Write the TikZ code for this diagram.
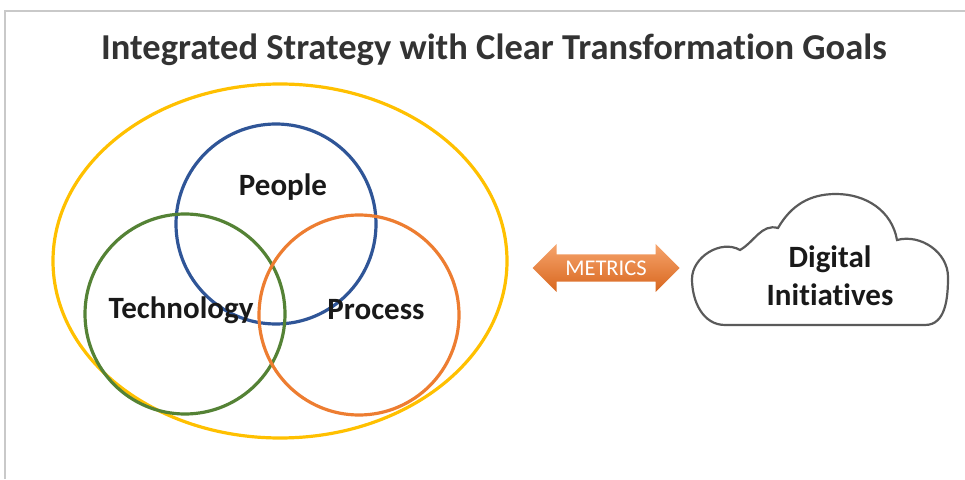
\documentclass[tikz,border=0pt]{standalone}
\usepackage{fontspec}
\setmainfont{Carlito}[Ligatures=NoCommon]
\usetikzlibrary{shapes.geometric,shapes.arrows}
\definecolor{goldring}{HTML}{FFC000}
\definecolor{peopleblue}{HTML}{2F5597}
\definecolor{techgreen}{HTML}{548235}
\definecolor{processorange}{HTML}{ED7D31}
\definecolor{metricslight}{HTML}{F6A46C}
\definecolor{metricsdark}{HTML}{D8661E}
\definecolor{cloudgray}{HTML}{5A5A5A}
\definecolor{framegray}{HTML}{C9C9C9}
\tikzset{%
	venn ring/.style={
		circle,
		line width=3.2pt,
		minimum size=200pt
	},
	venn label/.style={
		font=\fontsize{31}{34}\selectfont\bfseries,
		text=black!90
	},
}

\begin{document}
\begin{tikzpicture}[x=1pt,y=1pt]
		\useasboundingbox (0,0) rectangle (965,479);
		% Frame
		\draw[framegray, line width=1.6pt] (5,0) -- (5,468) -- (965,468);
		\node[font=\fontsize{36.5}{40}\selectfont\bfseries, text=black!80] (title) at (494,429) {Integrated Strategy with Clear Transformation Goals};
		
		% Rings
		\node[ellipse, draw=goldring, line width=3.2pt, minimum width=454pt, minimum height=354pt] (strategy) at (280,218) {};
		\node[venn ring, draw=peopleblue] (people) at (276,255) {};
		\node[venn ring, draw=techgreen] (technology) at (185,165) {};
		\node[venn ring, draw=processorange] (process) at (359,164) {};
		\node[venn label] at (283,292) {People};
		\node[venn label] at (181,169) {Technology};
		\node[venn label] at (376,169) {Process};
		
		% Metrics
		\node[double arrow, double arrow head extend=9.5pt, minimum width=48pt, minimum height=147pt, inner xsep=2pt, inner ysep=5pt,
			top color=metricslight, bottom color=metricsdark, text=white, font=\fontsize{22.5}{24}\selectfont] (metrics) at (606,211) {METRICS};
		
		% Cloud
		\draw[cloudgray, line width=2.2pt] (725,154) -- (925,154)
			to[out=0,in=-90] (948,202)
			to[out=90,in=15] (897,239)
			to[out=100,in=0] (836,285)
			to[out=180,in=60] (778,251)
			to[out=165,in=30] (740,229)
			to[out=150,in=90] (692,200)
			to[out=-90,in=180] (725,154);
		\node[venn label, align=center, font=\fontsize{31}{38}\selectfont\bfseries] (initiatives) at (830,203) {Digital\\Initiatives};
		
		\end{tikzpicture}
\end{document}
